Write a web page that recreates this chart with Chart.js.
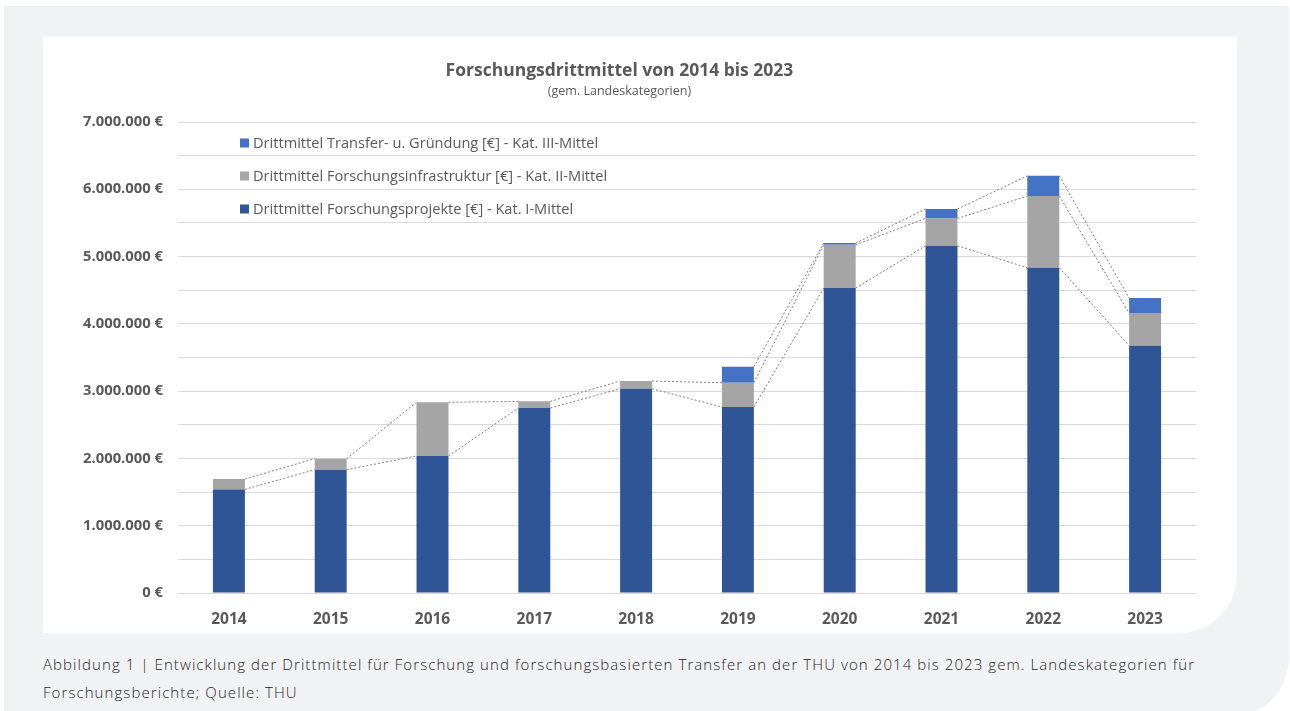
<!DOCTYPE html>
<html>
<head>
<meta charset="utf-8">
<script src="https://cdn.jsdelivr.net/npm/chart.js@4/dist/chart.umd.min.js"></script>
<style>
  body { margin: 0; background: #fff; width: 1290px; height: 711px; overflow: hidden; position: relative; }
  #panel { position: absolute; left: 4px; top: 6px; width: 1285px; height: 713px; background: #f1f2f4; border-bottom-right-radius: 62px; }
  #card { position: absolute; left: 43px; top: 37px; width: 1194px; height: 596px; background: #fff; border-bottom-right-radius: 58px; overflow: hidden; }
  #caption { position: absolute; left: 43px; top: 650px; width: 1240px; font-family: "Open Sans", sans-serif; font-weight: 300; font-size: 15px; letter-spacing: 1.08px; line-height: 28px; color: #262626; }
</style>
</head>
<body>
<div id="panel"></div>
<div id="card"><canvas id="chart" width="1194" height="596"></canvas></div>
<div id="caption">Abbildung 1 | Entwicklung der Drittmittel für Forschung und forschungsbasierten Transfer an der THU von 2014 bis 2023 gem. Landeskategorien für<br>Forschungsberichte; Quelle: THU</div>
<script>
const years = ["2014", "2015", "2016", "2017", "2018", "2019", "2020", "2021", "2022", "2023"];
const katI = [1540000, 1832000, 2036000, 2749000, 3036000, 2764000, 4532000, 5160000, 4834000, 3675000];
const katII = [154000, 164000, 798000, 99000, 114000, 361000, 643000, 407000, 1065000, 485000];
const katIII = [null, null, null, null, null, 238000, 25000, 139000, 301000, 223000];
const seriesNames = [
  "Drittmittel Forschungsprojekte [€] - Kat. I-Mittel",
  "Drittmittel Forschungsinfrastruktur [€] - Kat. II-Mittel",
  "Drittmittel Transfer- u. Gründung [€] - Kat. III-Mittel",
];
const yMax = 7000000;
const yStep = 500000;

const textColor = "#595959";
const fontFamily = "'Open Sans', sans-serif";

// dotted lines between the stacked segment tops (like Excel series lines)
const seriesLines = {
  id: "seriesLines",
  afterDatasetsDraw(chart) {
    const ctx = chart.ctx;
    ctx.save();
    ctx.strokeStyle = "#7f7f7f";
    ctx.lineWidth = 1;
    ctx.setLineDash([2, 2]);
    chart.data.datasets.forEach((ds, i) => {
      const bars = chart.getDatasetMeta(i).data;
      for (let j = 0; j < bars.length - 1; j++) {
        if (ds.data[j] == null || ds.data[j + 1] == null) continue;
        const a = bars[j], b = bars[j + 1];
        ctx.beginPath();
        ctx.moveTo(a.x + a.width / 2, a.y);
        ctx.lineTo(b.x - b.width / 2, b.y);
        ctx.stroke();
      }
    });
    ctx.restore();
  },
};

// legend inside the plot area, top-left, reversed order
const innerLegend = {
  id: "innerLegend",
  afterDraw(chart) {
    const ctx = chart.ctx;
    const { left, top } = chart.chartArea;
    ctx.save();
    ctx.font = "14.6px " + fontFamily;
    ctx.textBaseline = "middle";
    const ds = chart.data.datasets.slice().reverse();
    ds.forEach((d, k) => {
      const y = top + 21 + k * 33;
      ctx.fillStyle = d.backgroundColor;
      ctx.fillRect(left + 62, y - 4.5, 9, 9);
      ctx.fillStyle = textColor;
      ctx.fillText(d.label, left + 75, y + 1);
    });
    ctx.restore();
  },
};

new Chart(document.getElementById("chart"), {
  type: "bar",
  data: {
    labels: years,
    datasets: [
      { label: seriesNames[0], data: katI, backgroundColor: "#2f5597" },
      { label: seriesNames[1], data: katII, backgroundColor: "#a5a5a5" },
      { label: seriesNames[2], data: katIII, backgroundColor: "#4472c4" },
    ],
  },
  plugins: [seriesLines, innerLegend],
  options: {
    responsive: false,
    animation: false,
    layout: { padding: { left: 0, right: 41, top: 0, bottom: 5 } },
    datasets: { bar: { barPercentage: 0.314, categoryPercentage: 1 } },
    plugins: {
      legend: { display: false },
      tooltip: { enabled: false },
      title: {
        display: true,
        text: "Forschungsdrittmittel von 2014 bis 2023",
        color: textColor,
        font: { family: fontFamily, size: 17.5, weight: "bold" },
        padding: { top: 24, bottom: 1 },
      },
      subtitle: {
        display: true,
        text: "(gem. Landeskategorien)",
        color: textColor,
        font: { family: fontFamily, size: 12.5 },
        padding: { top: 1, bottom: 23 },
      },
    },
    scales: {
      x: {
        stacked: true,
        afterFit(scale) { scale.height = 35; },
        grid: { display: false, drawTicks: false },
        border: { display: false },
        ticks: {
          color: textColor,
          font: { family: fontFamily, size: 15.5, weight: "bold" },
          padding: 17,
        },
      },
      y: {
        stacked: true,
        min: 0,
        max: yMax,
        afterFit(scale) { scale.width = 135; },
        grid: { color: "#d9d9d9", drawTicks: false },
        border: { display: false },
        ticks: {
          stepSize: yStep,
          color: textColor,
          font: { family: fontFamily, size: 14.8, weight: "bold" },
          padding: 15,
          callback(v) {
            if (v % 1000000 !== 0) return "";
            return v.toLocaleString("de-DE") + " €";
          },
        },
      },
    },
  },
});
</script>
</body>
</html>
